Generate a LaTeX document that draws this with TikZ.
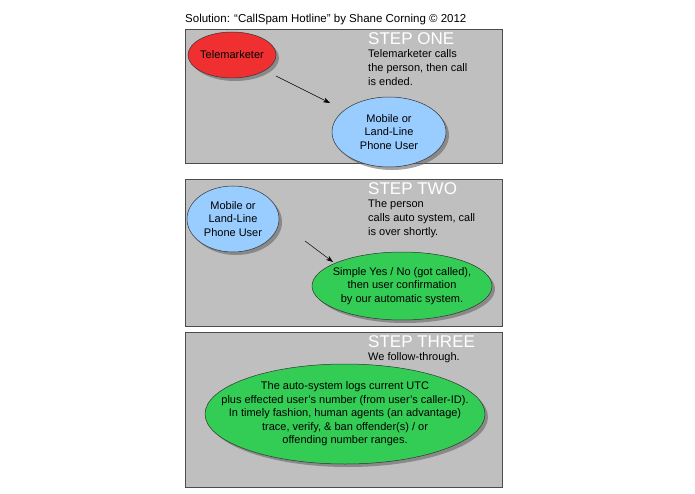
\documentclass[tikz,border=0pt]{standalone}
\usepackage{fontspec}
\setmainfont{Liberation Sans}
\usetikzlibrary{shadows,arrows.meta,shapes.geometric}
\definecolor{cred}{HTML}{F03030}
\definecolor{cblue}{HTML}{99CCFF}
\definecolor{cgreen}{HTML}{33CC55}
\begin{document}
\begin{tikzpicture}[x=1pt,y=-1pt,
  panel/.style={draw=black!70,fill=black!25,line width=0.6pt},
  ell/.style={draw=black!80,line width=0.5pt,drop shadow={shadow xshift=3pt,shadow yshift=-3pt,fill=black!60,opacity=0.6}},
  lab/.style={align=center,inner sep=0pt,font=\fontsize{11}{13.5}\selectfont},
  head/.style={anchor=north west,text=white,font=\fontsize{17}{17}\selectfont,inner sep=0pt},
  desc/.style={anchor=north west,align=left,font=\fontsize{11}{14}\selectfont,inner sep=0pt},
  arr/.style={-{Stealth[length=7pt,width=5pt]},line width=0.5pt}]
\useasboundingbox (0,0) rectangle (695,494);
\node[anchor=south west,inner sep=0pt,font=\fontsize{11.5}{13}\selectfont] (title) at (185,25) {Solution: “CallSpam Hotline” by Shane Corning © 2012};
\draw[panel] (185,29) rectangle (502,163);
\draw[panel] (185,179) rectangle (502,326);
\draw[panel] (185,332) rectangle (502,487);
\node[head] (h1) at (368,32) {STEP ONE};
\node[desc] (d1) at (368,49) {Telemarketer calls\\the person, then call\\is ended.};
\node[head] (h2) at (368,182) {STEP TWO};
\node[desc] (d2) at (368,199) {The person\\calls auto system, call\\is over shortly.};
\node[head] (h3) at (368,335) {STEP THREE};
\node[desc] (d3) at (368,352) {We follow-through.};
\path[ell,fill=cred] (232,55) ellipse [x radius=44, y radius=23];
\node[lab] (tm) at (232,55) {Telemarketer};
\path[ell,fill=cblue] (389,132) ellipse [x radius=57, y radius=35];
\node[lab] (m1) at (389,132) {Mobile or\\Land-Line\\Phone User};
\path[ell,fill=cblue] (233,219) ellipse [x radius=46, y radius=33];
\node[lab] (m2) at (233,219) {Mobile or\\Land-Line\\Phone User};
\path[ell,fill=cgreen] (402,286) ellipse [x radius=90, y radius=34];
\node[lab] (g2) at (402,286) {Simple Yes / No (got called),\\then user confirmation\\by our automatic system.};
\path[ell,fill=cgreen] (345,414) ellipse [x radius=140, y radius=50];
\node[lab] (g3) at (345,414) {The auto-system logs current UTC\\plus effected user's number (from user's caller-ID).\\In timely fashion, human agents (an advantage)\\trace, verify, \& ban offender(s) / or\\offending number ranges.};
\coordinate (a1s) at (276,76); \coordinate (a1e) at (330,103);
\coordinate (a2s) at (305,241); \coordinate (a2e) at (333,262);
\draw[arr] (a1s) -- (a1e);
\draw[arr] (a2s) -- (a2e);
\end{tikzpicture}
\end{document}
